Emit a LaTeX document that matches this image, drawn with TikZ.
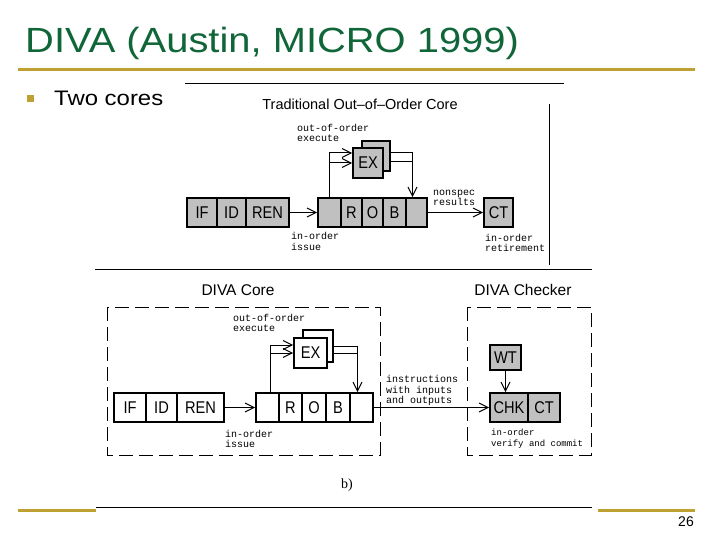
\documentclass[tikz,border=0pt]{standalone}
\usepackage{fontspec}
\setmainfont{Liberation Sans}
\newfontfamily\slidefont[FakeStretch=1.14]{Liberation Sans}
\newfontfamily\boxfont[FakeStretch=0.86]{Liberation Sans}
\newfontfamily\monofont{Liberation Mono}
\newfontfamily\serfont{Liberation Serif}
\usetikzlibrary{arrows.meta}
\definecolor{slidegreen}{RGB}{16,102,56}
\definecolor{slidegold}{RGB}{191,160,50}
\definecolor{boxgray}{RGB}{192,192,192}
\begin{document}
\begin{tikzpicture}[x=1pt,y=-1pt,
  cellg/.style={draw, line width=1.6pt, fill=boxgray, inner sep=0pt, minimum height=29pt,
    font=\boxfont\fontsize{17pt}{17pt}\selectfont},
  cellw/.style={cellg, fill=white},
  lbl/.style={anchor=west, inner sep=0pt, align=left, font=\monofont\fontsize{10pt}{10.5pt}\selectfont},
  lblnarrow/.style={lbl, font=\monofont\fontsize{9pt}{11pt}\selectfont},
  conn/.style={line width=1pt},
  arr/.style={conn, -{Straight Barb[length=9pt,width=9pt,line width=1pt]}},
  rule/.style={line width=1pt},
  goldrule/.style={slidegold, line width=3pt},
  dashbox/.style={line width=1pt, dash pattern=on 14pt off 6pt},
  headtxt/.style={inner sep=0pt, font=\fontsize{15pt}{15pt}\selectfont}
]
\useasboundingbox (0,0) rectangle (720,540);
\fill[white] (0,0) rectangle (720,540);

% slide frame
\node[anchor=base west, inner sep=0pt, text=slidegreen, font=\slidefont\fontsize{35pt}{35pt}\selectfont] (title) at (25,53) {DIVA (Austin, MICRO 1999)};
\draw[goldrule] (18,70) -- (695,70);
\fill[slidegold] (27,95) rectangle (34,102);
\node[anchor=base west, inner sep=0pt, font=\slidefont\fontsize{21pt}{21pt}\selectfont] (bullet) at (54,106) {Two cores};
\draw[goldrule] (18,510) -- (96,510);
\draw[goldrule] (598,510) -- (695,510);
\node[anchor=base east, inner sep=0pt, font=\fontsize{14pt}{14pt}\selectfont] (pagenum) at (694,526) {26};

% ---------- traditional core ----------
\draw[rule] (185,84) -- (564,84);
\draw[rule] (549,104) -- (549,265);
\node[headtxt, font=\fontsize{14.5pt}{14.5pt}\selectfont] (thead) at (360,104) {Traditional Out–of–Order Core};

\node[cellg, minimum width=30pt] (tIF) at (202,212.5) {IF};
\node[cellg, minimum width=29pt] (tID) at (231.5,212.5) {ID};
\node[cellg, minimum width=43pt] (tREN) at (267.5,212.5) {REN};
\node[cellg, minimum width=23pt] (tR1) at (329.5,212.5) {};
\node[cellg, minimum width=21pt] (tR2) at (351.5,212.5) {R};
\node[cellg, minimum width=21pt] (tR3) at (372.5,212.5) {O};
\node[cellg, minimum width=23pt] (tR4) at (394.5,212.5) {B};
\node[cellg, minimum width=21pt] (tR5) at (416.5,212.5) {};
\node[cellg, minimum width=29pt] (tCT) at (498.5,212.5) {CT};
\node[cellg, minimum width=28pt, minimum height=30pt] (tEXb) at (376,156) {};
\node[cellg, minimum width=30pt, minimum height=30pt] (tEXf) at (368,163) {EX};

\draw[arr] (tREN.east) -- (tR1.west);
\draw[arr] (tR5.east) -- (tCT.west);
\draw[arr] (tR1.north) |- ([yshift=10pt]tEXf.west);
\draw[arr] (tR1.north |- tEXf.west) -- (tEXf.west);
\coordinate (tq1) at ([yshift=3pt]tEXb.east);
\coordinate (tq2) at ([yshift=-6pt]tEXb.east);
\coordinate (tdrop) at ([xshift=-4pt]tR5.north);
\draw[arr] (tq1) -| (tdrop);
\draw[conn] (tq2) -- (tq2 -| tdrop);

\node[lbl] (tooo) at (297,133) {out-of-order\\execute};
\node[lbl] (tiss) at (291,241.5) {in-order\\issue};
\node[lbl] (tnon) at (433,198) {nonspec\\results};
\node[lbl] (tret) at (485,243) {in-order\\retirement};

% ---------- DIVA ----------
\draw[rule] (95,269) -- (592,269);
\draw[rule] (96,507) -- (592,507);
\node[headtxt, font=\fontsize{15.5pt}{15.5pt}\selectfont] (bcore) at (238,290) {DIVA Core};
\node[headtxt, font=\fontsize{15.5pt}{15.5pt}\selectfont] (bchk) at (523,290) {DIVA Checker};
\draw[dashbox] (107,307) rectangle (380,455);
\draw[dashbox] (467,307) rectangle (591,455);

\node[cellw, minimum width=32pt] (bIF) at (130,407.5) {IF};
\node[cellw, minimum width=31pt] (bID) at (161.5,407.5) {ID};
\node[cellw, minimum width=47pt] (bREN) at (200.5,407.5) {REN};
\node[cellw, minimum width=23pt] (bR1) at (267.5,407.5) {};
\node[cellw, minimum width=23pt] (bR2) at (290.5,407.5) {R};
\node[cellw, minimum width=24pt] (bR3) at (314,407.5) {O};
\node[cellw, minimum width=24pt] (bR4) at (338,407.5) {B};
\node[cellw, minimum width=23pt] (bR5) at (361.5,407.5) {};
\node[cellw, minimum width=30pt, minimum height=32pt] (bEXb) at (318,346) {};
\node[cellw, minimum width=33pt, minimum height=30pt] (bEXf) at (310.5,353) {EX};
\node[cellg, minimum width=38pt] (bCHK) at (509,407.5) {CHK};
\node[cellg, minimum width=32pt] (bCT) at (544,407.5) {CT};
\node[cellg, minimum width=31pt, minimum height=25pt] (bWT) at (505.5,357.5) {WT};

\draw[arr] (bREN.east) -- (bR1.west);
\draw[arr] (bR5.east) -- (bCHK.west);
\draw[arr] (bWT.south) -- (bCHK.north -| bWT.south);
\coordinate (brise) at ([xshift=3pt]bR1.north);
\draw[arr] (brise) |- ([yshift=8pt]bEXf.west);
\draw[arr] (brise |- bEXf.west) -- (bEXf.west);
\coordinate (bq1) at (bEXb.east);
\coordinate (bq2) at ([yshift=-7pt]bEXb.east);
\coordinate (bdrop) at ([xshift=-4pt]bR5.north);
\draw[arr] (bq1) -| (bdrop);
\draw[conn] (bq2) -- (bq2 -| bdrop);

\node[lbl] (booo) at (233,323) {out-of-order\\execute};
\node[lbl] (biss) at (225,439) {in-order\\issue};
\node[lbl] (binst) at (386,390.5) {instructions\\with inputs\\and outputs};
\node[lblnarrow] (bver) at (491,439) {in-order\\verify and commit};
\node[inner sep=0pt, font=\serfont\fontsize{14pt}{14pt}\selectfont] (bcap) at (347,485) {b)};
\end{tikzpicture}
\end{document}
